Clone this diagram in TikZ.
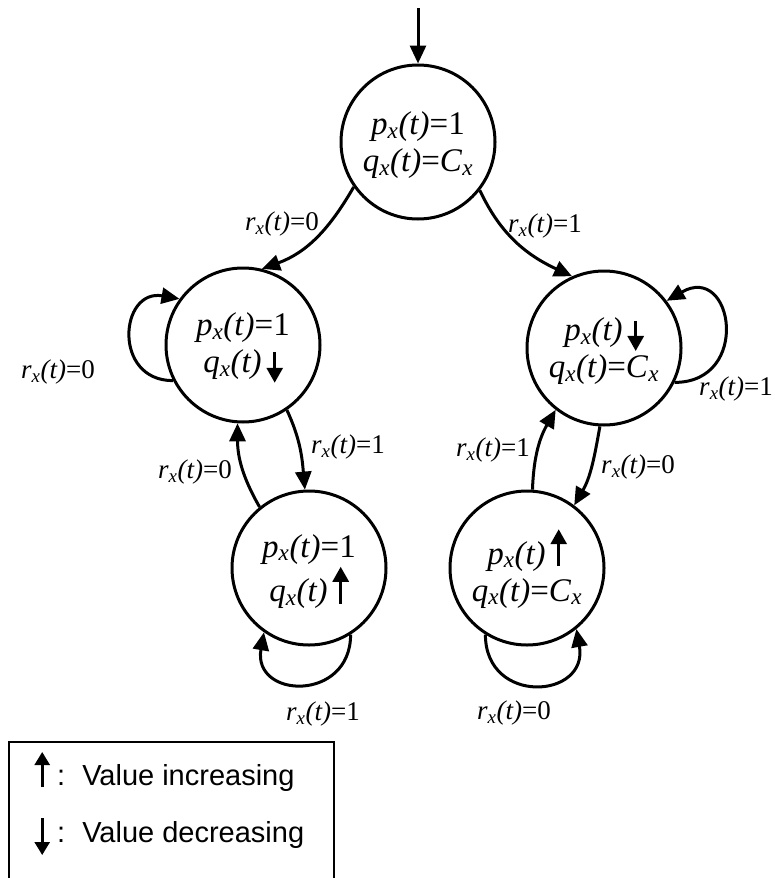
\documentclass[tikz,border=0pt]{standalone}
\usepackage{fontspec}
\setmainfont{Liberation Serif}
\newfontfamily\legendfont{Liberation Sans}
\usetikzlibrary{arrows.meta}
\tikzset{
  arw/.style={line width=3pt,-{Triangle[length=15pt,width=16pt]}},
  legarw/.style={line width=2.6pt,-{Triangle[length=13pt,width=15pt]}},
  state/.style={circle,draw,line width=3pt,minimum size=154pt,inner sep=0pt,align=center,font=\fontsize{33}{37}\selectfont},
  trans/.style={line width=3pt,-{Triangle[length=18pt,width=16pt]}},
  lbl/.style={font=\fontsize{27}{30}\selectfont,inner sep=0pt},
  legtext/.style={anchor=base west,inner sep=0pt,font=\legendfont\fontsize{29}{34}\selectfont},
}
\newcommand\fv[1]{\textit{#1}\textsubscript{\textit{x}}\textit{(t)}}
\newcommand\cx{\textit{C}\textsubscript{\textit{x}}}
\newcommand\arw[2]{\tikz[baseline=0pt,x=1pt,y=1pt]{\path (-8,0) -- (8,0);\draw[arw] (0,#1) -- (0,#2);}}
\newcommand\legarrow[2]{\tikz[baseline=0pt,x=1pt,y=1pt]{\path (-8,0) -- (8,0);\draw[legarw] (0,#1) -- (0,#2);}}
\begin{document}
\begin{tikzpicture}[x=1pt,y=-1pt]
\fill[white] (0,0) rectangle (774,878);
\useasboundingbox (0,0) rectangle (774,878);
% states
\node[state] (top) at (418,142) {\rule{0pt}{30pt}\fv{p}=1\\\fv{q}=\cx};
\node[state] (lm) at (243,345) {\rule{0pt}{30pt}\fv{p}=1\\\fv{q}\hspace{5pt}\arw{21}{-10}};
\node[state] (rm) at (604,348) {\rule{0pt}{30pt}\fv{p}\hspace{5pt}\arw{20}{-10}\\\fv{q}=\cx};
\node[state] (bl) at (309,568) {\rule{0pt}{30pt}\fv{p}=1\\\fv{q}\hspace{5pt}\arw{-2}{35}};
\node[state] (br) at (527,568) {\rule{0pt}{30pt}\fv{p}\hspace{5pt}\arw{-2}{35}\\\fv{q}=\cx};
% initial arrow
\coordinate (in0) at (418,8);
\draw[trans] (in0) -- (top);
% transitions
\draw[trans] (top.215) to[out=240,in=20] (lm.76);
\draw[trans] (top.322) to[out=295,in=155] (rm.114);
\draw[trans] (lm.304) to[out=295,in=95] (bl.93);
\draw[trans] (bl.129) to[out=120,in=270] (lm.266);
\draw[trans] (rm.267) to[out=260,in=60] (br.53);
\draw[trans] (br.86) to[out=88,in=240] (rm.232);
% self loops
\draw[trans] (lm.207) to[out=180,in=170,looseness=1.9] (lm.144);
\draw[trans] (rm.334) to[out=0,in=30,looseness=2.4] (rm.37);
\draw[trans] (bl.302) to[out=-90,in=-100,looseness=2] (bl.235);
\draw[trans] (br.238) to[out=-90,in=-80,looseness=2] (br.309);
% labels
\node[lbl] (l1) at (282,224) {\fv{r}=0};
\node[lbl] (l2) at (545,226) {\fv{r}=1};
\node[lbl] (l3) at (58,372) {\fv{r}=0};
\node[lbl] (l4) at (736,389) {\fv{r}=1};
\node[lbl] (l5) at (348,447) {\fv{r}=1};
\node[lbl] (l6) at (195,472) {\fv{r}=0};
\node[lbl] (l7) at (493,450) {\fv{r}=1};
\node[lbl] (l8) at (638,467) {\fv{r}=0};
\node[lbl] (l9) at (323,714) {\fv{r}=1};
\node[lbl] (l10) at (514,713) {\fv{r}=0};
% legend
\draw[line width=2.2pt] (9,892) -- (9,742) -- (334,742) -- (334,892);
\node[legtext] (leg1) at (34,785) {\legarrow{-2}{33}\hspace{7pt}:\hspace{17pt}Value increasing};
\node[legtext] (leg2) at (34,842) {\legarrow{24}{-13}\hspace{7pt}:\hspace{17pt}Value decreasing};
\end{tikzpicture}
\end{document}
